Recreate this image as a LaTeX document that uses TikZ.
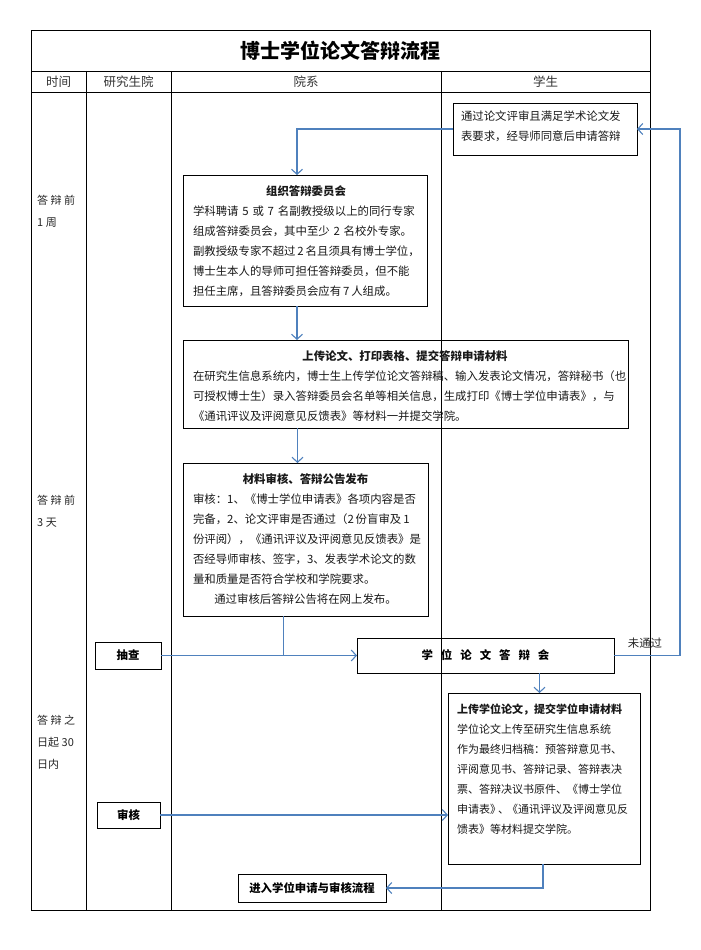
\documentclass[tikz,border=0pt]{standalone}
\usepackage{fontspec}
\setmainfont{Noto Sans CJK SC}
\usetikzlibrary{arrows.meta,calc}
\definecolor{flowblue}{RGB}{79,129,189}
\newcommand\bodyfont{\fontsize{11.4}{20}\selectfont}
\newcommand\hdrfont{\fontsize{12.5}{15}\selectfont}
\setlength\parindent{0pt}
\tikzset{
  tbl/.style={line width=0.9pt,draw=black},
  box/.style={draw=black,line width=0.9pt,inner sep=0pt,outer sep=0pt,anchor=north west},
  boxtxt/.style={inner sep=0pt,outer sep=0pt,anchor=north west,font=\bodyfont,text=black!90},
  flow/.style={draw=flowblue,line width=1.1pt,-{Straight Barb[length=5pt,width=11pt,line width=1.1pt]}},
  flowline/.style={draw=flowblue,line width=1.1pt},
  hdr/.style={inner sep=0pt,font=\hdrfont,text=black!80},
  timelbl/.style={inner sep=0pt,anchor=north west,align=left,font=\fontsize{11}{22}\selectfont,text=black!85},
}
\begin{document}
\begin{tikzpicture}[x=1pt,y=-1pt]
\useasboundingbox (0,0) rectangle (701,950);
\fill[white] (0,0) rectangle (701,950);
% table frame
\draw[tbl] (31,30) rectangle (650,910);
\draw[tbl] (31,71) -- (650,71);
\draw[tbl] (31,92) -- (650,92);
\draw[tbl] (86,71) -- (86,910);
\draw[tbl] (171,71) -- (171,910);
\draw[tbl] (441,71) -- (441,910);
% title and headers
\node[inner sep=0pt,font=\fontsize{20}{24}\selectfont\bfseries] (title) at (340,51) {博士学位论文答辩流程};
\node[hdr] (h1) at (58.5,82) {时间};
\node[hdr] (h2) at (128.5,82) {研究生院};
\node[hdr] (h3) at (306,82) {院系};
\node[hdr] (h4) at (545.5,82) {学生};
% time labels
\node[timelbl] (t1) at (37,195) {答 辩 前\\1 周};
\node[timelbl] (t2) at (37,495) {答 辩 前\\3 天};
\node[timelbl] (t3) at (37,715) {答 辩 之\\日起 30\\日内};
% boxes
\node[box,minimum width=184,minimum height=52] (b1) at (453,103) {};
\node[boxtxt] (x1) at (461,111) {\begin{minipage}[t]{170pt}通过论文评审且满足学术论文发\\表要求，经导师同意后申请答辩\end{minipage}};

\node[box,minimum width=244,minimum height=131] (b2) at (183,175) {};
\node[boxtxt] (x2) at (193,186) {\begin{minipage}[t]{226pt}\centering\textbf{组织答辩委员会}\par\raggedright
学科聘请\,\,5\,\,或\,\,7\,\,名副教授级以上的同行专家\\
组成答辩委员会，其中至少\,\,2\,\,名校外专家。\\
副教授级专家不超过\,2\,名且须具有博士学位，\\
博士生本人的导师可担任答辩委员，但不能\\
担任主席，且答辩委员会应有\,7\,人组成。\end{minipage}};

\node[box,minimum width=445,minimum height=88] (b3) at (183,340) {};
\node[boxtxt] (x3) at (193,351) {\begin{minipage}[t]{424pt}\centering\textbf{上传论文、打印表格、提交答辩申请材料}\par\raggedright
在研究生信息系统内，博士生上传学位论文答辩稿、输入发表论文情况，答辩秘书（也\\
可授权博士生）录入答辩委员会名单等相关信息，生成打印《博士学位申请表》，与\\
《通讯评议及评阅意见反馈表》等材料一并提交学院。\end{minipage}};

\node[box,minimum width=245,minimum height=153] (b4) at (183,463) {};
\node[boxtxt] (x4) at (193,474) {\begin{minipage}[t]{225pt}\centering\textbf{材料审核、答辩公告发布}\par\raggedright
审核：1、《博士学位申请表》各项内容是否\\
完备，2、论文评审是否通过（2\,份盲审及\,1\\
份评阅），《通讯评议及评阅意见反馈表》是\\
否经导师审核、签字，3、发表学术论文的数\\
量和质量是否符合学校和学院要求。\par\centering
通过审核后答辩公告将在网上发布。\end{minipage}};

\node[box,minimum width=66,minimum height=27] (b5) at (95,642) {};
\node[inner sep=0pt,font=\bodyfont\bfseries] (x5) at (b5.center) {抽查};

\node[box,minimum width=257,minimum height=35] (b6) at (357,638) {};
\node[inner sep=0pt,font=\bodyfont\bfseries] (x6) at (b6.center) {学\hspace{8pt}位\hspace{8pt}论\hspace{8pt}文\hspace{8pt}答\hspace{8pt}辩\hspace{8pt}会};

\node[box,minimum width=192,minimum height=171] (b7) at (448,693) {};
\node[boxtxt,font=\fontsize{11}{20}\selectfont] (x7) at (457,704) {\begin{minipage}[t]{180pt}\raggedright\textbf{上传学位论文，提交学位申请材料}\\
学位论文上传至研究生信息系统\\
作为最终归档稿：预答辩意见书、\\
评阅意见书、答辩记录、答辩表决\\
票、答辩决议书原件、《博士学位\\
申请表》\kern-3pt、\kern-2pt《通讯评议及评阅意见反\\
馈表》等材料提交学院。\end{minipage}};

\node[box,minimum width=63,minimum height=26] (b8) at (97,802) {};
\node[inner sep=0pt,font=\bodyfont\bfseries] (x8) at (b8.center) {审核};

\node[box,minimum width=148,minimum height=28] (b9) at (238,874) {};
\node[inner sep=0pt,font=\bodyfont\bfseries] (x9) at (b9.center) {进入学位申请与审核流程};

% connectors
\coordinate (r) at (680,0);
\coordinate (j) at ($(b4.south)+(-22,0)$);
\draw[flow] (b1.west) -| ([xshift=-8pt]b2.north);
\draw[flow] ([xshift=-8pt]b2.south) -- ([xshift=-8pt]b2.south |- b3.north);
\draw[flow] ([xshift=-8pt]b4.north |- b3.south) -- ([xshift=-8pt]b4.north);
\draw[flowline] (j) -- (j |- b5.east);
\draw[flow] (b5.east) -- (b6.west);
\draw[flow] (b6.east) -- (b6.east -| r) -- (r |- b1.east) -- (b1.east);
\node[inner sep=0pt,font=\bodyfont,text=black!85] (nt) at (645,643) {未通过};
\draw[flow] ([xshift=54pt]b6.south) -- ([xshift=54pt]b6.south |- b7.north);
\draw[flow] (b8.east) -- (b8.east -| b7.west);
\draw[flow] ([xshift=-1pt]b7.south) -- ([xshift=-1pt]b7.south |- b9.east) -- (b9.east);
\end{tikzpicture}
\end{document}
